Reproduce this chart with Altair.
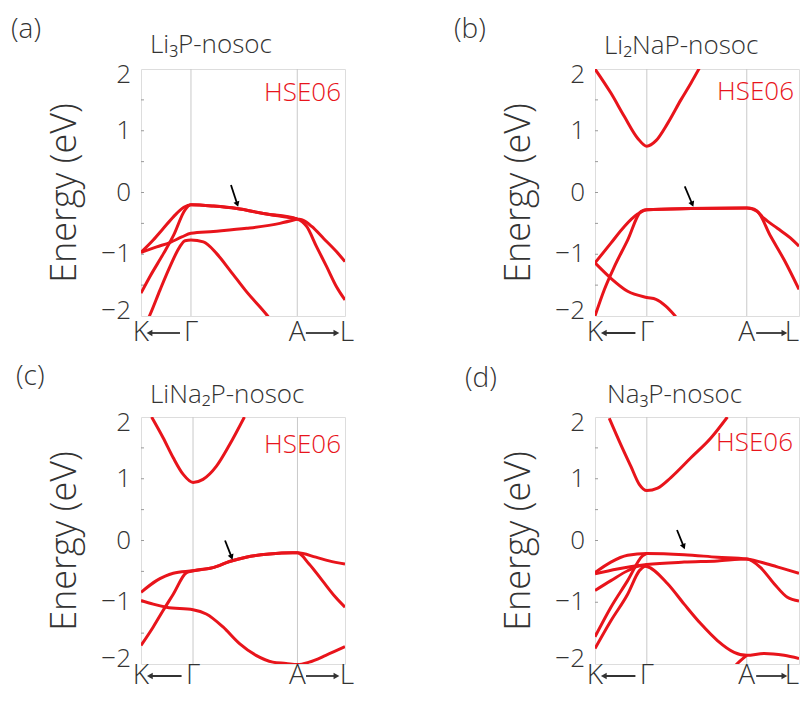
import math
import altair as alt
import pandas as pd

RED = "#e8141b"
INK = "#333333"
FONT = "Open Sans"
W, H = 204, 247

TITLES = ["Li₃P-nosoc", "Li₂NaP-nosoc", "LiNa₂P-nosoc", "Na₃P-nosoc"]
LETTERS = ["(a)", "(b)", "(c)", "(d)"]
GAMMA = [0.245, 0.254, 0.255, 0.254]
APOINT = [0.766, 0.744, 0.767, 0.744]
TICK_NAMES = ["K", "Γ", "A", "L"]
Y_MID = [-1, 0, 1]
Y_TOP = [2]
Y_BOT = [-2]
MINOR_TICKS = [-1.5, -1.0, -0.5, 0.0, 0.5, 1.0, 1.5]

# ---- (a) Li3P ----
a_b1_k = [0, 0.06, 0.11, 0.16, 0.21, 0.245, 0.355, 0.47, 0.60, 0.766, 0.796, 0.837, 0.894, 0.959, 1.0]
a_b1_e = [-0.97, -0.77, -0.58, -0.39, -0.24, -0.20, -0.22, -0.26, -0.34, -0.43, -0.45, -0.55, -0.74, -0.96, -1.12]
a_b2_k = [0, 0.044, 0.11, 0.16, 0.216, 0.245, 0.355, 0.47, 0.60, 0.766, 0.812, 0.861, 0.91, 0.959, 1.0]
a_b2_e = [-1.63, -1.36, -0.99, -0.69, -0.28, -0.20, -0.22, -0.26, -0.34, -0.43, -0.55, -0.88, -1.20, -1.53, -1.74]
a_b3_k = [0, 0.077, 0.142, 0.20, 0.245, 0.355, 0.518, 0.681, 0.766]
a_b3_e = [-0.97, -0.88, -0.81, -0.72, -0.66, -0.63, -0.58, -0.50, -0.43]
a_b4_k = [0.02, 0.044, 0.093, 0.142, 0.19, 0.216, 0.245, 0.306, 0.371, 0.436, 0.518, 0.616, 0.64]
a_b4_e = [-2.15, -1.98, -1.58, -1.20, -0.88, -0.78, -0.77, -0.80, -0.99, -1.26, -1.61, -1.98, -2.08]

# ---- (b) Li2NaP ----
b_c_k = [0, 0.078, 0.144, 0.209, 0.254, 0.299, 0.356, 0.421, 0.47, 0.511]
b_c_e = [2.0, 1.61, 1.23, 0.88, 0.75, 0.84, 1.12, 1.50, 1.77, 2.01]
b_b1_k = [0, 0.078, 0.144, 0.209, 0.254, 0.47, 0.744, 0.78, 0.829, 0.894, 0.959, 1.0]
b_b1_e = [-1.14, -0.82, -0.55, -0.35, -0.28, -0.26, -0.25, -0.27, -0.42, -0.58, -0.74, -0.87]
b_b2_k = [0, 0.046, 0.095, 0.16, 0.225, 0.254, 0.47, 0.744, 0.796, 0.861, 0.927, 1.0]
b_b2_e = [-2.0, -1.57, -1.20, -0.77, -0.31, -0.28, -0.26, -0.25, -0.31, -0.71, -1.09, -1.57]
b_b3_k = [0, 0.078, 0.16, 0.254, 0.299, 0.347, 0.396]
b_b3_e = [-1.14, -1.39, -1.60, -1.70, -1.73, -1.84, -2.01]

# ---- (c) LiNa2P ----
c_c_k = [0.052, 0.109, 0.158, 0.207, 0.255, 0.304, 0.369, 0.434, 0.507]
c_c_e = [2.0, 1.66, 1.34, 1.07, 0.94, 0.99, 1.20, 1.55, 2.0]
c_b1_k = [0, 0.076, 0.158, 0.255, 0.353, 0.434, 0.515, 0.629, 0.743, 0.767, 0.857, 0.922, 1.0]
c_b1_e = [-0.84, -0.65, -0.53, -0.49, -0.44, -0.34, -0.27, -0.22, -0.20, -0.20, -0.27, -0.33, -0.38]
c_b2_k = [0, 0.06, 0.109, 0.158, 0.223, 0.255, 0.353, 0.434, 0.515, 0.629, 0.743, 0.767, 0.824, 0.889, 0.954, 1.0]
c_b2_e = [-1.70, -1.40, -1.13, -0.87, -0.52, -0.49, -0.44, -0.34, -0.27, -0.22, -0.20, -0.20, -0.38, -0.65, -0.92, -1.08]
c_b3_k = [0, 0.06, 0.125, 0.255, 0.32, 0.402, 0.483, 0.564, 0.646, 0.711, 0.767, 0.824, 0.906, 1.0]
c_b3_e = [-0.97, -1.03, -1.08, -1.12, -1.19, -1.40, -1.67, -1.86, -1.97, -1.99, -2.01, -1.97, -1.86, -1.72]

# ---- (d) Na3P ----
d_c_k = [0.07, 0.127, 0.176, 0.217, 0.254, 0.307, 0.372, 0.47, 0.568, 0.649]
d_c_e = [1.98, 1.55, 1.20, 0.91, 0.81, 0.85, 1.02, 1.34, 1.66, 2.0]
d_b1_k = [0, 0.078, 0.16, 0.254, 0.437, 0.6, 0.744, 0.845, 0.927, 1.0]
d_b1_e = [-0.52, -0.35, -0.24, -0.21, -0.23, -0.27, -0.30, -0.38, -0.46, -0.53]
d_b2_k = [0, 0.11, 0.254, 0.437, 0.6, 0.744, 0.812, 0.878, 0.943, 1.0]
d_b2_e = [-0.54, -0.46, -0.39, -0.35, -0.33, -0.30, -0.44, -0.70, -0.92, -0.98]
d_b3_k = [0, 0.078, 0.16, 0.225, 0.254, 0.356, 0.437, 0.519, 0.6, 0.682, 0.744, 0.829, 0.927, 1.0]
d_b3_e = [-0.81, -0.65, -0.49, -0.41, -0.42, -0.70, -1.03, -1.35, -1.62, -1.81, -1.86, -1.83, -1.86, -1.91]
d_b4_k = [0, 0.078, 0.16, 0.233, 0.254]
d_b4_e = [-1.56, -1.08, -0.65, -0.25, -0.21]
d_b5_k = [0, 0.078, 0.16, 0.217, 0.254]
d_b5_e = [-1.75, -1.30, -0.87, -0.49, -0.39]
d_b6_k = [0.67, 0.69, 0.744]
d_b6_e = [-2.10, -2.02, -1.86]

PANEL_BANDS = [
    [(a_b1_k, a_b1_e), (a_b2_k, a_b2_e), (a_b3_k, a_b3_e), (a_b4_k, a_b4_e)],
    [(b_c_k, b_c_e), (b_b1_k, b_b1_e), (b_b2_k, b_b2_e), (b_b3_k, b_b3_e)],
    [(c_c_k, c_c_e), (c_b1_k, c_b1_e), (c_b2_k, c_b2_e), (c_b3_k, c_b3_e)],
    [(d_c_k, d_c_e), (d_b1_k, d_b1_e), (d_b2_k, d_b2_e), (d_b3_k, d_b3_e),
     (d_b4_k, d_b4_e), (d_b5_k, d_b5_e), (d_b6_k, d_b6_e)],
]

# black pointer arrows (tail -> head)
ARROW_TAIL_K = [0.441, 0.440, 0.412, 0.402]
ARROW_TAIL_E = [0.12, 0.10, 0.00, 0.17]
ARROW_HEAD_K = [0.472, 0.477, 0.444, 0.435]
ARROW_HEAD_E = [-0.19, -0.19, -0.27, -0.10]

# layout offsets (pixels, relative to each plot area)
HSE_DX = [4, 5, 4, 6]
HSE_DY = [24, 23, 28, 26]
LETTER_DX = [-130, -141, -125, -130]
LETTER_DY = [-31, -31, -32, -30]
TITLE_DX = [9, 9, 9, 12]
TITLE_DY = [-16, -15, -14, -14]
L_DX = [2, -7, 2, -7]
ARROW_END = [0.82, 0.72, 0.82, 0.72]
XLAB_DY = [17, 17, 12, 12]


def panel(i):
    g, a = GAMMA[i], APOINT[i]
    rows = []
    for j, (ks, es) in enumerate(PANEL_BANDS[i]):
        for k, e in zip(ks, es):
            rows.append({"band": j, "k": k, "E": e})
    bands = pd.DataFrame(rows)

    xs = alt.X("k:Q", scale=alt.Scale(domain=[0, 1], nice=False, zero=False), axis=None)
    yaxis = alt.Axis(labels=False, ticks=False, domain=False, grid=False,
                     title="Energy (eV)", titleFontSize=36, titleFont=FONT,
                     titleFontWeight=300, titleColor=INK, titlePadding=58)
    ys = alt.Y("E:Q", scale=alt.Scale(domain=[-2, 2], nice=False, zero=False), axis=yaxis)

    sym = pd.DataFrame({"k": [g, a]})
    vlines = alt.Chart(sym).mark_rule(color="#c9c9c9", strokeWidth=1).encode(x=xs)

    minor = pd.DataFrame({"E": MINOR_TICKS})
    mticks = alt.Chart(minor).mark_rule(color="#9a9a9a", strokeWidth=1).encode(
        y=ys, x=alt.value(0), x2=alt.value(3))

    def ylabels(vals, dy):
        return alt.Chart(pd.DataFrame({"E": vals})).mark_text(
            fontSize=26, font=FONT, fontWeight=300, color=INK, align="right",
            baseline="middle", dy=dy
        ).encode(y=ys, x=alt.value(-10), text=alt.Text("E:Q", format="d"))

    lab_mid = ylabels(Y_MID, 0)
    lab_top = ylabels(Y_TOP, 6)
    lab_bot = ylabels(Y_BOT, -5)

    lines = alt.Chart(bands).mark_line(color=RED, strokeWidth=3, interpolate="monotone",
                                       clip=True).encode(x=xs, y=ys, detail="band:N")

    hse = alt.Chart(pd.DataFrame({"t": ["HSE06"]})).mark_text(
        color=RED, fontSize=26, font=FONT, fontWeight=300, align="right", baseline="middle"
    ).encode(text="t:N", x=alt.value(W - HSE_DX[i]), y=alt.value(HSE_DY[i]))

    arr = pd.DataFrame({"k": [ARROW_TAIL_K[i]], "E": [ARROW_TAIL_E[i]],
                        "k2": [ARROW_HEAD_K[i]], "E2": [ARROW_HEAD_E[i]]})
    dxp = (ARROW_HEAD_K[i] - ARROW_TAIL_K[i]) * W
    dyp = (ARROW_TAIL_E[i] - ARROW_HEAD_E[i]) * H / 4
    ang = 180 - math.degrees(math.atan2(dxp, dyp))
    arrow_line = alt.Chart(arr).mark_rule(color="black", strokeWidth=1.8).encode(
        x=xs, y=ys, x2="k2:Q", y2="E2:Q")
    head = pd.DataFrame({"k": [ARROW_HEAD_K[i]], "E": [ARROW_HEAD_E[i]]})
    arrow_head = alt.Chart(head).mark_point(shape="triangle-up", filled=True, color="black",
                                            size=38, angle=ang, opacity=1).encode(x=xs, y=ys)

    ylab = H + XLAB_DY[i]
    ticks = pd.DataFrame({"k": [0, g, a], "t": TICK_NAMES[:3]})
    tick_text = alt.Chart(ticks).mark_text(fontSize=28, font=FONT, fontWeight=300, color=INK,
                                           baseline="middle", align="center").encode(
        x=xs, text="t:N", y=alt.value(ylab))
    tick_l = alt.Chart(pd.DataFrame({"k": [1], "t": TICK_NAMES[3:]})).mark_text(
        fontSize=28, font=FONT, fontWeight=300, color=INK, baseline="middle", align="center",
        dx=L_DX[i]).encode(x=xs, text="t:N", y=alt.value(ylab))

    path_arrows = pd.DataFrame({"k": [g * 0.17, a + (1 - a) * 0.18],
                                "k2": [g * 0.78, a + (1 - a) * ARROW_END[i]]})
    path_lines = alt.Chart(path_arrows).mark_rule(color=INK, strokeWidth=1.8).encode(
        x=xs, x2="k2:Q", y=alt.value(ylab))
    heads = pd.DataFrame({"k": [g * 0.17, a + (1 - a) * ARROW_END[i]],
                          "s": ["triangle-left", "triangle-right"]})
    path_heads = alt.Chart(heads).mark_point(filled=True, color=INK, size=45, opacity=1).encode(
        x=xs, shape=alt.Shape("s:N", scale=None), y=alt.value(ylab))

    title = alt.Chart(pd.DataFrame({"t": [TITLES[i]]})).mark_text(
        fontSize=26, font=FONT, fontWeight=300, color=INK, align="left", baseline="alphabetic"
    ).encode(text="t:N", x=alt.value(TITLE_DX[i]), y=alt.value(TITLE_DY[i]))

    letter = alt.Chart(pd.DataFrame({"t": [LETTERS[i]]})).mark_text(
        fontSize=28, font=FONT, fontWeight=300, color=INK, align="left", baseline="alphabetic"
    ).encode(text="t:N", x=alt.value(LETTER_DX[i]), y=alt.value(LETTER_DY[i]))

    return alt.layer(vlines, mticks, lab_mid, lab_top, lab_bot, lines, hse, arrow_line,
                     arrow_head, tick_text, tick_l, path_lines, path_heads, title,
                     letter).properties(width=W, height=H)


chart = alt.concat(panel(0), panel(1), panel(2), panel(3), columns=2,
                   spacing={"row": 101, "column": 250}, bounds="flush").properties(
    autosize=alt.AutoSizeParams(type="none"),
    padding={"left": 133, "top": 61, "right": 659, "bottom": 624},
).configure_view(stroke="#a8a8a8", strokeWidth=1).configure(background="white")

chart.save("out.html", embed_options={"renderer": "svg", "actions": False})
